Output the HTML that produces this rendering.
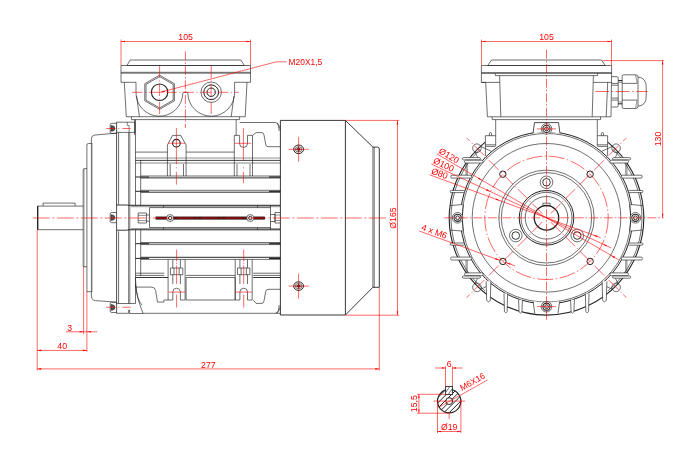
<!DOCTYPE html>
<html><head><meta charset="utf-8"><title>Motor drawing</title>
<style>
html,body{margin:0;padding:0;background:#fff;}
body{width:700px;height:467px;overflow:hidden;}
svg{display:block;}
text{font-family:"Liberation Sans",sans-serif;fill:#f00;}
</style></head><body>
<svg width="700" height="467" viewBox="0 0 700 467">
<defs><clipPath id="shc"><circle cx="449.2" cy="401.1" r="11.7"/></clipPath></defs>
<rect width="700" height="467" fill="#fff"/>
<g fill="none" stroke="#222" stroke-width="0.65" stroke-linecap="butt">
<path d="M130.1,60 L240.9,60 L244.4,65.5 L127,65.5 Z"/>
<path d="M136,82.3 H121 V65.5 H250.5 V82.3 H234.6"/>
<line x1="121.00" y1="72.30" x2="250.50" y2="72.30"/>
<line x1="121.00" y1="73.20" x2="250.50" y2="73.20"/>
<path d="M124.3,82.3 L126.3,116.7 H245.2 L247,82.3"/>
<path d="M136,82.3 V92.3 A23.4,23.4 0 0 0 182.8,93.3 Q182.9,92.3 183.9,92.3 H186.7 Q187.7,92.3 187.8,93.3 A23.4,23.4 0 0 0 234.6,92.3 V82.3"/>
<line x1="136.60" y1="96.00" x2="139.40" y2="116.60"/>
<line x1="234.00" y1="96.00" x2="231.20" y2="116.60"/>
<polygon points="159.60,75.15 174.41,83.70 174.41,100.80 159.60,109.35 144.79,100.80 144.79,83.70"/>
<polygon points="159.60,76.55 173.20,84.40 173.20,100.10 159.60,107.95 146.00,100.10 146.00,84.40"/>
<circle cx="159.60" cy="92.25" r="8.20" stroke-width="1.1"/>
<circle cx="211.20" cy="92.25" r="10.20"/>
<circle cx="211.20" cy="92.25" r="7.40" stroke-width="1.0"/>
<circle cx="211.20" cy="92.25" r="4.20" stroke-width="1.0"/>
<path d="M131.4,116.8 V119.6 H239.6 V116.8"/>
<line x1="134.60" y1="119.60" x2="134.60" y2="135.00"/>
<line x1="236.20" y1="119.60" x2="236.20" y2="135.40"/>
<line x1="116.60" y1="122.20" x2="116.60" y2="313.30" stroke-width="0.8"/>
<line x1="118.60" y1="132.40" x2="118.60" y2="204.60"/>
<line x1="118.60" y1="231.30" x2="118.60" y2="303.50"/>
<line x1="128.60" y1="132.40" x2="128.60" y2="303.50" stroke-width="0.6"/>
<line x1="129.80" y1="132.40" x2="129.80" y2="303.50" stroke-width="0.6"/>
<line x1="135.50" y1="119.60" x2="135.50" y2="205.30"/>
<line x1="135.50" y1="229.80" x2="135.50" y2="303.50"/>
<line x1="140.70" y1="160.00" x2="140.70" y2="205.30"/>
<line x1="140.70" y1="229.80" x2="140.70" y2="276.00"/>
<path d="M116.6,122.2 H134.9 V132.4 H116.6"/>
<path d="M127.3,122.2 V125.5 H129.1 V132.4" stroke-width="0.55"/>
<path d="M116.6,303.5 H135.5 M116.6,313.3 H128.7 V310 H129.6 V313.5 H143"/>
<path d="M116.5,123.30000000000001 H111.7 Q110.2,123.30000000000001 110.2,124.80000000000001 V132.0 Q110.2,133.5 111.7,133.5 H116.5"/>
<path d="M111,125.5 Q115,125.5 115,128.4 Q115,131.3 111,131.3 Z" stroke-width="0.5" fill="#555"/>
<path d="M116.5,212.5 H111.7 Q110.2,212.5 110.2,214.0 V221.2 Q110.2,222.7 111.7,222.7 H116.5"/>
<path d="M111,214.7 Q115,214.7 115,217.6 Q115,220.5 111,220.5 Z" stroke-width="0.5" fill="#555"/>
<path d="M116.5,302.29999999999995 H111.7 Q110.2,302.29999999999995 110.2,303.79999999999995 V311.0 Q110.2,312.5 111.7,312.5 H116.5"/>
<path d="M111,304.5 Q115,304.5 115,307.4 Q115,310.29999999999995 111,310.29999999999995 Z" stroke-width="0.5" fill="#555"/>
<path d="M116.5,133.1 L94.5,135.1 Q91.4,135.5 91.4,139 V296 Q91.4,300.2 95.5,300.6 L116.5,302.2"/>
<line x1="92.30" y1="143.00" x2="92.30" y2="292.00" stroke-width="0.35"/>
<path d="M91.4,143.5 H88.4 Q86.9,143.5 86.9,145 V291.7 H91.4"/>
<path d="M86.9,168.6 H84.3 Q83.2,168.6 83.2,170 V266.8 H86.9"/>
<line x1="84.20" y1="168.60" x2="84.20" y2="266.80" stroke-width="0.35"/>
<path d="M83.2,206.1 H37.6 V229.7 H83.2"/>
<line x1="37.70" y1="206.10" x2="37.70" y2="229.70" stroke-width="1.3"/>
<path d="M43.1,206.1 V203.1 H75.1 V206.1"/>
<line x1="116.50" y1="205.00" x2="127.50" y2="205.00" stroke-width="0.9"/>
<line x1="116.50" y1="230.20" x2="127.50" y2="230.20" stroke-width="0.9"/>
<line x1="127.50" y1="205.30" x2="280.00" y2="205.30" stroke-width="1.0"/>
<line x1="127.50" y1="229.80" x2="280.00" y2="229.80" stroke-width="1.0"/>
<line x1="131.00" y1="206.70" x2="280.00" y2="206.70" stroke-width="0.5"/>
<line x1="131.00" y1="228.60" x2="280.00" y2="228.60" stroke-width="0.5"/>
<path d="M270.5,207.6 H149.5 V227.5 H270.5"/>
<line x1="270.50" y1="205.30" x2="270.50" y2="229.80"/>
<line x1="257.50" y1="205.30" x2="257.50" y2="207.60"/>
<line x1="257.50" y1="227.50" x2="257.50" y2="229.80"/>
<line x1="163.50" y1="205.30" x2="163.50" y2="207.60"/>
<line x1="163.50" y1="227.50" x2="163.50" y2="229.80"/>
<path d="M138.2,213 H146.5 V223 H138.2 Z"/>
<line x1="138.20" y1="215.40" x2="146.50" y2="215.40" stroke-width="0.5"/>
<line x1="138.20" y1="220.60" x2="146.50" y2="220.60" stroke-width="0.5"/>
<path d="M146.5,215 H149.5 M146.5,221.2 H149.5"/>
<path d="M270.5,214.5 H275 V221.5 H270.5"/>
<path d="M280,212.5 H275 V223 H280"/>
<line x1="275.00" y1="215.00" x2="280.00" y2="215.00" stroke-width="0.5"/>
<line x1="275.00" y1="220.50" x2="280.00" y2="220.50" stroke-width="0.5"/>
<rect x="156" y="217.0" width="108.5" height="2.1" fill="#7a1010" stroke="#111" stroke-width="0.85"/>
<circle cx="170.10" cy="218.00" r="3.50" fill="#fff"/>
<circle cx="170.10" cy="218.00" r="1.70" stroke-width="0.9"/>
<circle cx="250.30" cy="218.00" r="3.50" fill="#fff"/>
<circle cx="250.30" cy="218.00" r="1.70" stroke-width="0.9"/>
<line x1="135.40" y1="152.10" x2="167.40" y2="152.10"/>
<line x1="186.10" y1="152.10" x2="234.30" y2="152.10"/>
<line x1="280.40" y1="152.10" x2="280.40" y2="152.10"/>
<line x1="135.40" y1="158.00" x2="280.40" y2="158.00" stroke-width="0.5"/>
<line x1="135.40" y1="160.40" x2="280.40" y2="160.40" stroke-width="0.85"/>
<line x1="135.40" y1="163.00" x2="280.40" y2="163.00" stroke-width="0.55"/>
<line x1="140.70" y1="176.00" x2="280.40" y2="176.00"/>
<line x1="140.70" y1="177.90" x2="280.40" y2="177.90" stroke-width="0.95"/>
<line x1="140.70" y1="190.30" x2="280.40" y2="190.30"/>
<line x1="140.70" y1="192.20" x2="280.40" y2="192.20" stroke-width="0.95"/>
<line x1="140.70" y1="242.80" x2="280.40" y2="242.80" stroke-width="0.95"/>
<line x1="140.70" y1="244.60" x2="280.40" y2="244.60"/>
<line x1="140.70" y1="257.30" x2="280.40" y2="257.30" stroke-width="0.95"/>
<line x1="140.70" y1="259.40" x2="280.40" y2="259.40"/>
<line x1="135.40" y1="177.00" x2="149.00" y2="177.00" stroke-width="1.0"/>
<line x1="269.00" y1="177.00" x2="280.40" y2="177.00" stroke-width="1.2"/>
<line x1="135.40" y1="191.30" x2="149.00" y2="191.30" stroke-width="1.0"/>
<line x1="269.00" y1="191.30" x2="280.40" y2="191.30" stroke-width="1.2"/>
<line x1="135.40" y1="243.70" x2="149.00" y2="243.70" stroke-width="1.0"/>
<line x1="269.00" y1="243.70" x2="280.40" y2="243.70" stroke-width="1.2"/>
<line x1="135.40" y1="258.40" x2="149.00" y2="258.40" stroke-width="1.0"/>
<line x1="269.00" y1="258.40" x2="280.40" y2="258.40" stroke-width="1.2"/>
<line x1="135.40" y1="273.20" x2="164.30" y2="273.20"/>
<line x1="135.40" y1="275.40" x2="164.30" y2="275.40"/>
<line x1="135.40" y1="277.50" x2="168.10" y2="277.50" stroke-width="0.9"/>
<line x1="186.10" y1="275.40" x2="235.20" y2="275.40"/>
<path d="M186.1,277.5 H235.2 V300 H186.1 Z"/>
<line x1="253.20" y1="273.20" x2="280.40" y2="273.20"/>
<line x1="253.20" y1="275.40" x2="280.40" y2="275.40"/>
<line x1="253.20" y1="277.50" x2="280.40" y2="277.50" stroke-width="0.9"/>
<path d="M167.4,160 V145 L172.6,135.4 H180.7 L186.1,145 V160"/>
<line x1="170.20" y1="164.00" x2="170.20" y2="176.00"/>
<line x1="183.50" y1="164.00" x2="183.50" y2="176.00"/>
<line x1="167.40" y1="160.00" x2="167.40" y2="176.00"/>
<line x1="186.10" y1="160.00" x2="186.10" y2="176.00"/>
<circle cx="176.40" cy="143.20" r="3.80" stroke-width="1.1"/>
<path d="M234.3,176 V135.4 H239.6 V143.5 A3.95,3.95 0 0 0 247.5,143.5 V135.4 H252.5 V176"/>
<line x1="237.00" y1="164.00" x2="237.00" y2="176.00"/>
<line x1="250.00" y1="164.00" x2="250.00" y2="176.00"/>
<path d="M239.6,122.5 H275.5 Q278.2,122.5 278.6,126 L279.2,131"/>
<path d="M277,123 Q279,125 280.4,129"/>
<path d="M252.5,135.4 L256.1,132.6 H262 Q263.5,132.6 264,135 L265.6,144 Q266,146.7 268,146.7 H280.4"/>
<path d="M168.1,259.4 V300 H172.79999999999998 V292 A3.8,3.8 0 0 1 180.4,292 V300 H185.1 V259.4"/>
<line x1="172.80" y1="259.40" x2="172.80" y2="268.00"/>
<line x1="180.40" y1="259.40" x2="180.40" y2="268.00"/>
<path d="M170.4,268 H182.79999999999998 V274.7 H170.4 Z"/>
<line x1="174.00" y1="268.00" x2="174.00" y2="274.70"/>
<line x1="179.20" y1="268.00" x2="179.20" y2="274.70"/>
<line x1="172.80" y1="274.70" x2="172.80" y2="284.00"/>
<line x1="180.40" y1="274.70" x2="180.40" y2="284.00"/>
<path d="M235.2,259.4 V300 H239.89999999999998 V292 A3.8,3.8 0 0 1 247.5,292 V300 H252.2 V259.4"/>
<line x1="239.90" y1="259.40" x2="239.90" y2="268.00"/>
<line x1="247.50" y1="259.40" x2="247.50" y2="268.00"/>
<path d="M237.5,268 H249.89999999999998 V274.7 H237.5 Z"/>
<line x1="241.10" y1="268.00" x2="241.10" y2="274.70"/>
<line x1="246.30" y1="268.00" x2="246.30" y2="274.70"/>
<line x1="239.90" y1="274.70" x2="239.90" y2="284.00"/>
<line x1="247.50" y1="274.70" x2="247.50" y2="284.00"/>
<path d="M142.9,313.3 H280.4"/>
<path d="M253.2,300 L256.1,303.4 H262 Q263.5,303.4 264,301 L265.6,292 Q266,289.3 268,289.3 H280.4"/>
<path d="M275.5,313.3 Q278.2,313.3 278.6,310 L279.2,305"/>
<path d="M277,312.8 Q279,311 280.4,307"/>
<path d="M135.4,287.1 H151.5 Q155,287.1 155.6,290.5 L157.5,302.1 H163.9 V300 H168.1"/>
<path d="M135.4,278 Q136.5,296 139,302 Q141,308 143,313.3"/>
<path d="M135.4,284 Q137,300 142,305"/>
<path d="M280.4,120.4 H345.4 V315 H280.4 Z" stroke-width="0.9"/>
<path d="M345.4,120.4 L372.9,147.1 H377.5 Q379.3,147.1 379.3,149 V287.3 H372.9 L345.4,315" stroke-width="0.9"/>
<line x1="372.90" y1="147.10" x2="372.90" y2="287.30"/>
<line x1="374.20" y1="147.10" x2="374.20" y2="287.30"/>
<ellipse cx="298.6" cy="149.3" rx="4.9" ry="4.3" stroke-width="1.0"/>
<ellipse cx="298.6" cy="149.3" rx="3.4" ry="2.6" stroke-width="0.6"/>
<circle cx="298.60" cy="149.30" r="1.30" fill="#111"/>
<line x1="295.60" y1="149.30" x2="301.60" y2="149.30" stroke-width="0.8"/>
<line x1="298.60" y1="146.70" x2="298.60" y2="151.90" stroke-width="0.8"/>
<ellipse cx="298.6" cy="286.1" rx="4.9" ry="4.3" stroke-width="1.0"/>
<ellipse cx="298.6" cy="286.1" rx="3.4" ry="2.6" stroke-width="0.6"/>
<circle cx="298.60" cy="286.10" r="1.30" fill="#111"/>
<line x1="295.60" y1="286.10" x2="301.60" y2="286.10" stroke-width="0.8"/>
<line x1="298.60" y1="283.50" x2="298.60" y2="288.70" stroke-width="0.8"/>
<path d="M491.5,60 H601.5 L605.3,65.5 H487.7 Z"/>
<path d="M481.4,65.5 H611.6 V72.6 H481.4 Z"/>
<path d="M481.4,72.6 V82.4 H485.7 L487.4,116.8 H611 M606.2,116.8 L607.7,82.4"/>
<line x1="481.40" y1="73.40" x2="611.60" y2="73.40"/>
<path d="M495.4,73.4 V75.6 H597.6 V73.4"/>
<path d="M499.6,75.6 L500.8,116.8 M593.4,75.6 L592.2,116.8"/>
<path d="M611.6,72.6 V77 M593.3,82.4 H611.6 M481.4,82.4 H499.8"/>
<path d="M492.2,116.8 V119.6 H600.6 V116.8"/>
<line x1="495.70" y1="119.60" x2="495.70" y2="146.00"/>
<line x1="597.30" y1="119.60" x2="597.30" y2="146.00"/>
<path d="M611.7,76.7 H617 Q618.2,76.7 618.2,78 V105.7 Q618.2,107 617,107 H611.7"/>
<line x1="611.70" y1="83.40" x2="618.20" y2="83.40"/>
<line x1="611.70" y1="85.20" x2="618.20" y2="85.20"/>
<line x1="611.70" y1="98.10" x2="618.20" y2="98.10"/>
<line x1="611.70" y1="100.10" x2="618.20" y2="100.10"/>
<line x1="618.20" y1="80.60" x2="622.20" y2="80.60" stroke-width="1.1"/>
<line x1="618.20" y1="103.80" x2="622.20" y2="103.80" stroke-width="1.1"/>
<line x1="618.20" y1="82.40" x2="622.20" y2="82.40" stroke-width="0.5"/>
<line x1="618.20" y1="101.90" x2="622.20" y2="101.90" stroke-width="0.5"/>
<path d="M623.8,74.8 H635.5 Q638,74.8 638,77 V106.3 Q638,108.5 635.5,108.5 H623.8 Q622.2,108.5 622.2,107 V76.3 Q622.2,74.8 623.8,74.8 Z"/>
<line x1="622.20" y1="83.40" x2="637.00" y2="83.40"/>
<line x1="622.20" y1="100.10" x2="637.00" y2="100.10"/>
<path d="M635.6,74.8 Q636.2,79 637.2,83.4 M635.6,108.5 Q636.2,104 637.2,100.1" stroke-width="0.5"/>
<path d="M638,77 Q646.2,78 646.2,86.5 V97 Q646.2,105.5 638,106.2"/>
<line x1="611.50" y1="77.00" x2="611.00" y2="116.80"/>
<path d="M495.6,135.7 H485.4 V156"/>
<line x1="495.60" y1="144.80" x2="485.40" y2="144.80"/>
<line x1="495.60" y1="146.40" x2="485.40" y2="146.40"/>
<path d="M489.4,135.7 V133.6 A1.1,1.1 0 0 1 491.6,133.6 V135.7"/>
<path d="M597.4,135.7 H607.6 V156"/>
<line x1="597.40" y1="144.80" x2="607.60" y2="144.80"/>
<line x1="597.40" y1="146.40" x2="607.60" y2="146.40"/>
<path d="M601.4,135.7 V133.6 A1.1,1.1 0 0 1 603.6,133.6 V135.7"/>
<circle cx="546.50" cy="217.80" r="12.30" stroke-width="1.3"/>
<circle cx="546.50" cy="217.80" r="21.30"/>
<circle cx="546.50" cy="217.80" r="25.50"/>
<circle cx="546.50" cy="217.80" r="27.30" stroke-width="1.0"/>
<circle cx="546.50" cy="217.80" r="45.20"/>
<circle cx="546.50" cy="217.80" r="47.70"/>
<circle cx="546.50" cy="217.80" r="74.30"/>
<circle cx="546.50" cy="217.80" r="84.30"/>
<circle cx="546.50" cy="217.80" r="86.00" stroke-width="1.0"/>
<path d="M542.9,205.6 V203.2 H550.1 V205.6"/>
<circle cx="546.50" cy="182.30" r="6.30"/>
<circle cx="546.50" cy="182.30" r="3.80" stroke-width="0.9"/>
<circle cx="577.24" cy="235.55" r="6.30"/>
<circle cx="577.24" cy="235.55" r="3.80" stroke-width="0.9"/>
<circle cx="515.76" cy="235.55" r="6.30"/>
<circle cx="515.76" cy="235.55" r="3.80" stroke-width="0.9"/>
<circle cx="590.13" cy="261.43" r="3.20" stroke-width="1.0"/>
<circle cx="502.87" cy="261.43" r="3.20" stroke-width="1.0"/>
<circle cx="502.87" cy="174.17" r="3.20" stroke-width="1.0"/>
<circle cx="590.13" cy="174.17" r="3.20" stroke-width="1.0"/>
<path d="M533.2,301.3 L534.7,313.4 Q546.5,315.6 558,313.4 L559.6,301.3 Q546.5,304 533.2,301.3 Z" fill="#fff" stroke="none"/>
<path d="M533.1,133.4 L534.5,122.6 H558.5 L559.9,133.4 Q546.5,131 533.1,133.4 Z" fill="#fff" stroke="none"/>
<path d="M463.20,204.60000000000002 L450.20,205.60000000000002 V230.0 L463.20,231.0 Q460.90,217.8 463.20,204.60000000000002 Z" fill="#fff" stroke="none"/>
<path d="M463.20,204.60000000000002 Q461.30,217.8 463.20,231.0" stroke-width="0.9"/>
<path d="M629.80,204.60000000000002 L642.80,205.60000000000002 V230.0 L629.80,231.0 Q632.10,217.8 629.80,204.60000000000002 Z" fill="#fff" stroke="none"/>
<path d="M629.80,204.60000000000002 Q631.70,217.8 629.80,231.0" stroke-width="0.9"/>
<path d="M533.1,132.9 L534.5,122.6 H558.5 L559.9,132.9" stroke-width="0.8"/>
<path d="M533.2,301.5 L534.7,313.4 M559.6,301.5 L558,313.4"/>
<circle cx="635.40" cy="217.80" r="5.30" fill="#fff"/>
<circle cx="635.40" cy="217.80" r="3.60" stroke-width="1.1"/>
<circle cx="635.40" cy="217.80" r="1.90" stroke-width="0.9"/>
<circle cx="546.50" cy="306.70" r="5.30" fill="#fff"/>
<circle cx="546.50" cy="306.70" r="3.60" stroke-width="1.1"/>
<circle cx="546.50" cy="306.70" r="1.90" stroke-width="0.9"/>
<circle cx="457.60" cy="217.80" r="5.30" fill="#fff"/>
<circle cx="457.60" cy="217.80" r="3.60" stroke-width="1.1"/>
<circle cx="457.60" cy="217.80" r="1.90" stroke-width="0.9"/>
<circle cx="546.50" cy="128.90" r="5.30" fill="#fff"/>
<circle cx="546.50" cy="128.90" r="3.60" stroke-width="1.1"/>
<circle cx="546.50" cy="128.90" r="1.90" stroke-width="0.9"/>
<path d="M607.73,142.18 A97.3,97.3 0 1 1 485.27,142.18" stroke-width="1.1"/>
<path d="M612.84,149.10 A95.5,95.5 0 0 1 607.89,290.96"/>
<path d="M485.11,290.96 A95.5,95.5 0 0 1 480.16,149.10"/>
<circle cx="616.08" cy="287.38" r="4.30"/>
<line x1="612.19" y1="289.15" x2="601.65" y2="284.27"/>
<line x1="617.85" y1="283.49" x2="612.97" y2="272.95"/>
<circle cx="476.92" cy="287.38" r="4.30"/>
<line x1="475.15" y1="283.49" x2="480.03" y2="272.95"/>
<line x1="480.81" y1="289.15" x2="491.35" y2="284.27"/>
<circle cx="476.92" cy="148.22" r="4.30"/>
<line x1="480.81" y1="146.45" x2="491.35" y2="151.33"/>
<line x1="475.15" y1="152.11" x2="480.03" y2="162.65"/>
<circle cx="616.08" cy="148.22" r="4.30"/>
<line x1="617.85" y1="152.11" x2="612.97" y2="162.65"/>
<line x1="612.19" y1="146.45" x2="601.65" y2="151.33"/>
<rect x="462.30" y="157.60" width="18.20" height="2.30" rx="1.2" fill="#fff"/>
<rect x="464.50" y="160.20" width="18.60" height="2.80" rx="1.2" fill="#fff"/>
<rect x="450.80" y="175.20" width="20.80" height="2.90" rx="1.2" fill="#fff"/>
<rect x="450.60" y="257.10" width="21.00" height="2.90" rx="1.2" fill="#fff"/>
<rect x="464.50" y="272.90" width="18.60" height="2.80" rx="1.2" fill="#fff"/>
<rect x="462.30" y="276.00" width="18.20" height="2.20" rx="1.2" fill="#fff"/>
<rect x="450.10" y="190.40" width="14.55" height="2.20" rx="1.0" fill="#fff"/>
<rect x="450.10" y="243.00" width="14.49" height="2.20" rx="1.0" fill="#fff"/>
<line x1="467.10" y1="163.00" x2="467.10" y2="175.20"/>
<line x1="465.90" y1="163.00" x2="465.90" y2="175.20" stroke-width="0.4"/>
<line x1="467.10" y1="260.00" x2="467.10" y2="272.90"/>
<line x1="465.90" y1="260.00" x2="465.90" y2="272.90" stroke-width="0.4"/>
<path d="M462.50,204.5 L450.20,205.60000000000002 M462.50,231.10000000000002 L450.20,230.0"/>
<rect x="612.50" y="157.60" width="18.20" height="2.30" rx="1.2" fill="#fff"/>
<rect x="609.90" y="160.20" width="18.60" height="2.80" rx="1.2" fill="#fff"/>
<rect x="621.40" y="175.20" width="20.80" height="2.90" rx="1.2" fill="#fff"/>
<rect x="621.40" y="257.10" width="21.00" height="2.90" rx="1.2" fill="#fff"/>
<rect x="609.90" y="272.90" width="18.60" height="2.80" rx="1.2" fill="#fff"/>
<rect x="612.50" y="276.00" width="18.20" height="2.20" rx="1.2" fill="#fff"/>
<rect x="628.35" y="190.40" width="14.55" height="2.20" rx="1.0" fill="#fff"/>
<rect x="628.41" y="243.00" width="14.49" height="2.20" rx="1.0" fill="#fff"/>
<line x1="625.90" y1="163.00" x2="625.90" y2="175.20"/>
<line x1="627.10" y1="163.00" x2="627.10" y2="175.20" stroke-width="0.4"/>
<line x1="625.90" y1="260.00" x2="625.90" y2="272.90"/>
<line x1="627.10" y1="260.00" x2="627.10" y2="272.90" stroke-width="0.4"/>
<path d="M630.50,204.5 L642.80,205.60000000000002 M630.50,231.10000000000002 L642.80,230.0"/>
<path d="M486.1,281.30 L486.7,300.50 Q488.5,303.20 490.3,300.50 L490.9,281.30" fill="#fff"/>
<path d="M504.0,293.56 L504.45,311.60 Q505.8,314.30 507.15000000000003,311.60 L507.6,293.56" fill="#fff"/>
<path d="M518.6,299.78 L519.075,311.80 Q520.5,314.50 521.925,311.80 L522.4,299.78" fill="#fff"/>
<path d="M570.6,299.78 L571.075,311.80 Q572.5,314.50 573.925,311.80 L574.4,299.78" fill="#fff"/>
<path d="M585.4000000000001,293.56 L585.85,311.60 Q587.2,314.30 588.5500000000001,311.60 L589.0,293.56" fill="#fff"/>
<path d="M602.1,281.30 L602.7,300.50 Q604.5,303.20 606.3,300.50 L606.9,281.30" fill="#fff"/>
<g clip-path="url(#shc)" stroke-width="1.0"><line x1="409.70" y1="415.10" x2="437.70" y2="387.10"/><line x1="415.00" y1="415.10" x2="443.00" y2="387.10"/><line x1="420.30" y1="415.10" x2="448.30" y2="387.10"/><line x1="425.60" y1="415.10" x2="453.60" y2="387.10"/><line x1="430.90" y1="415.10" x2="458.90" y2="387.10"/><line x1="436.20" y1="415.10" x2="464.20" y2="387.10"/><line x1="441.50" y1="415.10" x2="469.50" y2="387.10"/><line x1="446.80" y1="415.10" x2="474.80" y2="387.10"/><line x1="452.10" y1="415.10" x2="480.10" y2="387.10"/><line x1="457.40" y1="415.10" x2="485.40" y2="387.10"/><line x1="462.70" y1="415.10" x2="490.70" y2="387.10"/></g>
<circle cx="449.20" cy="401.10" r="11.70" stroke-width="1.2"/>
<circle cx="449.20" cy="401.10" r="3.40" stroke-width="1.0" fill="#fff"/>
<rect x="445.6" y="386.4" width="6.8" height="8.2" fill="#fff" stroke-width="0.9"/>
<line x1="446.00" y1="392.00" x2="449.50" y2="387.00"/>
<line x1="448.50" y1="394.00" x2="452.00" y2="389.00"/>
</g>
<g fill="none" stroke="#f00" stroke-width="0.6">
<line x1="32.90" y1="218.00" x2="386.00" y2="218.00" stroke-dasharray="17 2.5 2 2.5"/>
<line x1="121.00" y1="39.60" x2="121.00" y2="65.60"/>
<line x1="250.50" y1="39.60" x2="250.50" y2="65.60"/>
<line x1="121.00" y1="41.50" x2="250.50" y2="41.50"/>
<polygon points="121.00,41.50 125.00,40.70 125.00,42.30" fill="#f00" stroke="none"/>
<polygon points="250.50,41.50 246.50,42.30 246.50,40.70" fill="#f00" stroke="none"/>
<line x1="185.40" y1="51.40" x2="185.40" y2="128.00" stroke-dasharray="9 2 1.5 2"/>
<line x1="132.00" y1="92.30" x2="238.80" y2="92.30" stroke-dasharray="10.5 2.8 1 2.8"/>
<line x1="159.60" y1="66.00" x2="159.60" y2="116.00" stroke-dasharray="12 2.5 1 2.5"/>
<line x1="211.20" y1="66.00" x2="211.20" y2="116.00" stroke-dasharray="12 2.5 1 2.5"/>
<polyline points="160.2,92.3 276.3,61.8 286.6,61.8" fill="none"/>
<polygon points="160.20,92.30 164.36,90.43 164.74,91.88" fill="#f00" stroke="none"/>
<line x1="106.20" y1="128.50" x2="130.60" y2="128.50" stroke-dasharray="9.2 3 1 3"/>
<line x1="106.20" y1="307.25" x2="130.60" y2="307.25" stroke-dasharray="9.2 3 1 3"/>
<line x1="176.40" y1="127.90" x2="176.40" y2="184.60" stroke-dasharray="36.4 3 1 3.5 13"/>
<line x1="168.00" y1="143.20" x2="185.00" y2="143.20"/>
<line x1="243.40" y1="128.20" x2="243.40" y2="183.20" stroke-dasharray="32 7 1 3.5 13"/>
<line x1="234.70" y1="143.30" x2="251.20" y2="143.30"/>
<line x1="176.60" y1="249.60" x2="176.60" y2="283.90" stroke-dasharray="11.8 1.5 1 1.5 19"/>
<line x1="176.60" y1="294.60" x2="176.60" y2="307.50"/>
<line x1="168.60" y1="292.10" x2="185.00" y2="292.10"/>
<line x1="243.70" y1="249.60" x2="243.70" y2="283.90" stroke-dasharray="11.8 1.5 1 1.5 19"/>
<line x1="243.70" y1="294.60" x2="243.70" y2="307.50"/>
<line x1="235.60" y1="292.10" x2="252.00" y2="292.10"/>
<line x1="288.70" y1="149.30" x2="308.90" y2="149.30"/>
<line x1="298.60" y1="136.80" x2="298.60" y2="161.80"/>
<line x1="288.70" y1="286.10" x2="308.90" y2="286.10"/>
<line x1="298.60" y1="273.60" x2="298.60" y2="298.60"/>
<line x1="345.40" y1="120.40" x2="399.20" y2="120.40"/>
<line x1="345.40" y1="315.20" x2="399.20" y2="315.20"/>
<line x1="397.50" y1="120.40" x2="397.50" y2="315.20"/>
<polygon points="397.50,120.40 398.30,124.40 396.70,124.40" fill="#f00" stroke="none"/>
<polygon points="397.50,315.20 396.70,311.20 398.30,311.20" fill="#f00" stroke="none"/>
<line x1="379.30" y1="287.30" x2="379.30" y2="370.60"/>
<line x1="37.20" y1="229.70" x2="37.20" y2="370.60"/>
<line x1="37.20" y1="368.90" x2="379.30" y2="368.90"/>
<polygon points="37.20,368.90 41.20,368.10 41.20,369.70" fill="#f00" stroke="none"/>
<polygon points="379.30,368.90 375.30,369.70 375.30,368.10" fill="#f00" stroke="none"/>
<line x1="86.90" y1="291.70" x2="86.90" y2="351.80"/>
<line x1="37.20" y1="350.40" x2="86.90" y2="350.40"/>
<polygon points="37.20,350.40 41.20,349.60 41.20,351.20" fill="#f00" stroke="none"/>
<polygon points="86.90,350.40 82.90,351.20 82.90,349.60" fill="#f00" stroke="none"/>
<line x1="83.60" y1="266.80" x2="83.60" y2="334.00"/>
<line x1="66.00" y1="331.80" x2="97.10" y2="331.80"/>
<polygon points="83.60,331.80 79.60,332.60 79.60,331.00" fill="#f00" stroke="none"/>
<polygon points="86.90,331.80 90.90,331.00 90.90,332.60" fill="#f00" stroke="none"/>
<line x1="546.50" y1="49.70" x2="546.50" y2="320.00" stroke-dasharray="9 2 1.5 2"/>
<line x1="444.30" y1="217.80" x2="663.60" y2="217.80" stroke-dasharray="9 2 1.5 2"/>
<line x1="550.74" y1="222.04" x2="626.40" y2="297.70" stroke-dasharray="14 2.5 1.5 2.5"/>
<line x1="542.26" y1="222.04" x2="466.60" y2="297.70" stroke-dasharray="14 2.5 1.5 2.5"/>
<line x1="542.26" y1="213.56" x2="466.60" y2="137.90" stroke-dasharray="14 2.5 1.5 2.5"/>
<line x1="550.74" y1="213.56" x2="626.40" y2="137.90" stroke-dasharray="14 2.5 1.5 2.5"/>
<circle cx="546.5" cy="217.8" r="61.7" fill="none" stroke-dasharray="16 2.5 1.5 2.5"/>
<line x1="481.50" y1="39.60" x2="481.50" y2="65.60"/>
<line x1="611.50" y1="39.60" x2="611.50" y2="65.60"/>
<line x1="481.50" y1="41.50" x2="611.50" y2="41.50"/>
<polygon points="481.50,41.50 485.50,40.70 485.50,42.30" fill="#f00" stroke="none"/>
<polygon points="611.50,41.50 607.50,42.30 607.50,40.70" fill="#f00" stroke="none"/>
<line x1="595.20" y1="91.50" x2="647.70" y2="91.50" stroke-dasharray="14 2.5 1.5 2.5"/>
<line x1="602.50" y1="60.60" x2="663.80" y2="60.60"/>
<line x1="662.60" y1="60.60" x2="662.60" y2="217.80"/>
<polygon points="662.60,60.60 663.40,64.60 661.80,64.60" fill="#f00" stroke="none"/>
<polygon points="662.60,217.80 661.80,213.80 663.40,213.80" fill="#f00" stroke="none"/>
<line x1="537.00" y1="128.90" x2="556.00" y2="128.90"/>
<line x1="537.00" y1="306.60" x2="556.00" y2="306.60"/>
<line x1="436.74" y1="153.92" x2="618.75" y2="259.85"/>
<polygon points="482.28,180.43 477.93,178.76 478.69,177.46" fill="#f00" stroke="none"/>
<polygon points="610.72,255.17 615.07,256.84 614.31,258.14" fill="#f00" stroke="none"/>
<line x1="431.40" y1="164.13" x2="611.12" y2="247.93"/>
<polygon points="490.58,191.72 486.09,190.46 486.73,189.10" fill="#f00" stroke="none"/>
<polygon points="602.42,243.88 606.91,245.14 606.27,246.50" fill="#f00" stroke="none"/>
<line x1="429.66" y1="174.81" x2="600.65" y2="237.72"/>
<polygon points="500.14,200.74 495.56,199.86 496.08,198.45" fill="#f00" stroke="none"/>
<polygon points="592.86,234.86 597.44,235.74 596.92,237.15" fill="#f00" stroke="none"/>
<line x1="419.24" y1="230.99" x2="499.77" y2="260.30"/>
<line x1="505.97" y1="262.56" x2="515.09" y2="265.87"/>
<polygon points="499.77,260.30 495.19,259.43 495.70,258.02" fill="#f00" stroke="none"/>
<polygon points="505.97,262.56 510.55,263.43 510.04,264.84" fill="#f00" stroke="none"/>
<line x1="433.40" y1="401.10" x2="465.10" y2="401.10"/>
<line x1="449.20" y1="412.00" x2="449.20" y2="419.00"/>
<line x1="445.50" y1="366.30" x2="445.50" y2="386.40"/>
<line x1="452.40" y1="366.30" x2="452.40" y2="386.40"/>
<line x1="435.10" y1="368.00" x2="445.50" y2="368.00"/>
<line x1="452.40" y1="368.00" x2="462.60" y2="368.00"/>
<polygon points="445.50,368.00 441.90,368.70 441.90,367.30" fill="#f00" stroke="none"/>
<polygon points="452.40,368.00 456.00,367.30 456.00,368.70" fill="#f00" stroke="none"/>
<line x1="417.10" y1="394.30" x2="446.00" y2="394.30"/>
<line x1="417.10" y1="413.20" x2="449.00" y2="413.20"/>
<line x1="418.90" y1="394.30" x2="418.90" y2="413.20"/>
<polygon points="418.90,394.30 419.60,397.90 418.20,397.90" fill="#f00" stroke="none"/>
<polygon points="418.90,413.20 418.20,409.60 419.60,409.60" fill="#f00" stroke="none"/>
<line x1="437.50" y1="401.10" x2="437.50" y2="433.00"/>
<line x1="460.90" y1="401.10" x2="460.90" y2="433.00"/>
<line x1="437.50" y1="431.50" x2="460.90" y2="431.50"/>
<polygon points="437.50,431.50 441.10,430.80 441.10,432.20" fill="#f00" stroke="none"/>
<polygon points="460.90,431.50 457.30,432.20 457.30,430.80" fill="#f00" stroke="none"/>
<line x1="438.60" y1="407.40" x2="487.40" y2="380.00"/>
</g>
<g opacity="0.999">
<text x="185.60" y="40.20" font-size="8.7" text-anchor="middle">105</text>
<text x="288.60" y="64.60" font-size="8.4" text-anchor="start">M20X1,5</text>
<text x="396.20" y="218.00" font-size="8.7" text-anchor="middle" transform="rotate(-90 396.20 218.00)">Ø165</text>
<text x="208.30" y="367.80" font-size="8.7" text-anchor="middle">277</text>
<text x="62.20" y="349.20" font-size="8.7" text-anchor="middle">40</text>
<text x="69.70" y="330.60" font-size="8.7" text-anchor="middle">3</text>
<text x="546.50" y="40.20" font-size="8.7" text-anchor="middle">105</text>
<text x="661.20" y="139.00" font-size="8.7" text-anchor="middle" transform="rotate(-90 661.20 139.00)">130</text>
<text x="437.97" y="152.79" font-size="8.9" text-anchor="start" transform="rotate(30.2 437.97 152.79)">Ø120</text>
<text x="432.53" y="162.89" font-size="8.9" text-anchor="start" transform="rotate(25.0 432.53 162.89)">Ø100</text>
<text x="430.68" y="173.48" font-size="8.9" text-anchor="start" transform="rotate(20.2 430.68 173.48)">Ø80</text>
<text x="420.73" y="229.83" font-size="8.9" text-anchor="start" transform="rotate(20.0 420.73 229.83)">4 x M6</text>
<text x="449.20" y="366.50" font-size="8.7" text-anchor="middle">6</text>
<text x="417.30" y="403.70" font-size="8.7" text-anchor="middle" transform="rotate(-90 417.30 403.70)">15,5</text>
<text x="449.20" y="429.90" font-size="8.7" text-anchor="middle">Ø19</text>
<text x="462" y="391" font-size="8.6" text-anchor="start" transform="rotate(-29.3 462 391)">M6X16</text>
</g>
</svg>
</body></html>
